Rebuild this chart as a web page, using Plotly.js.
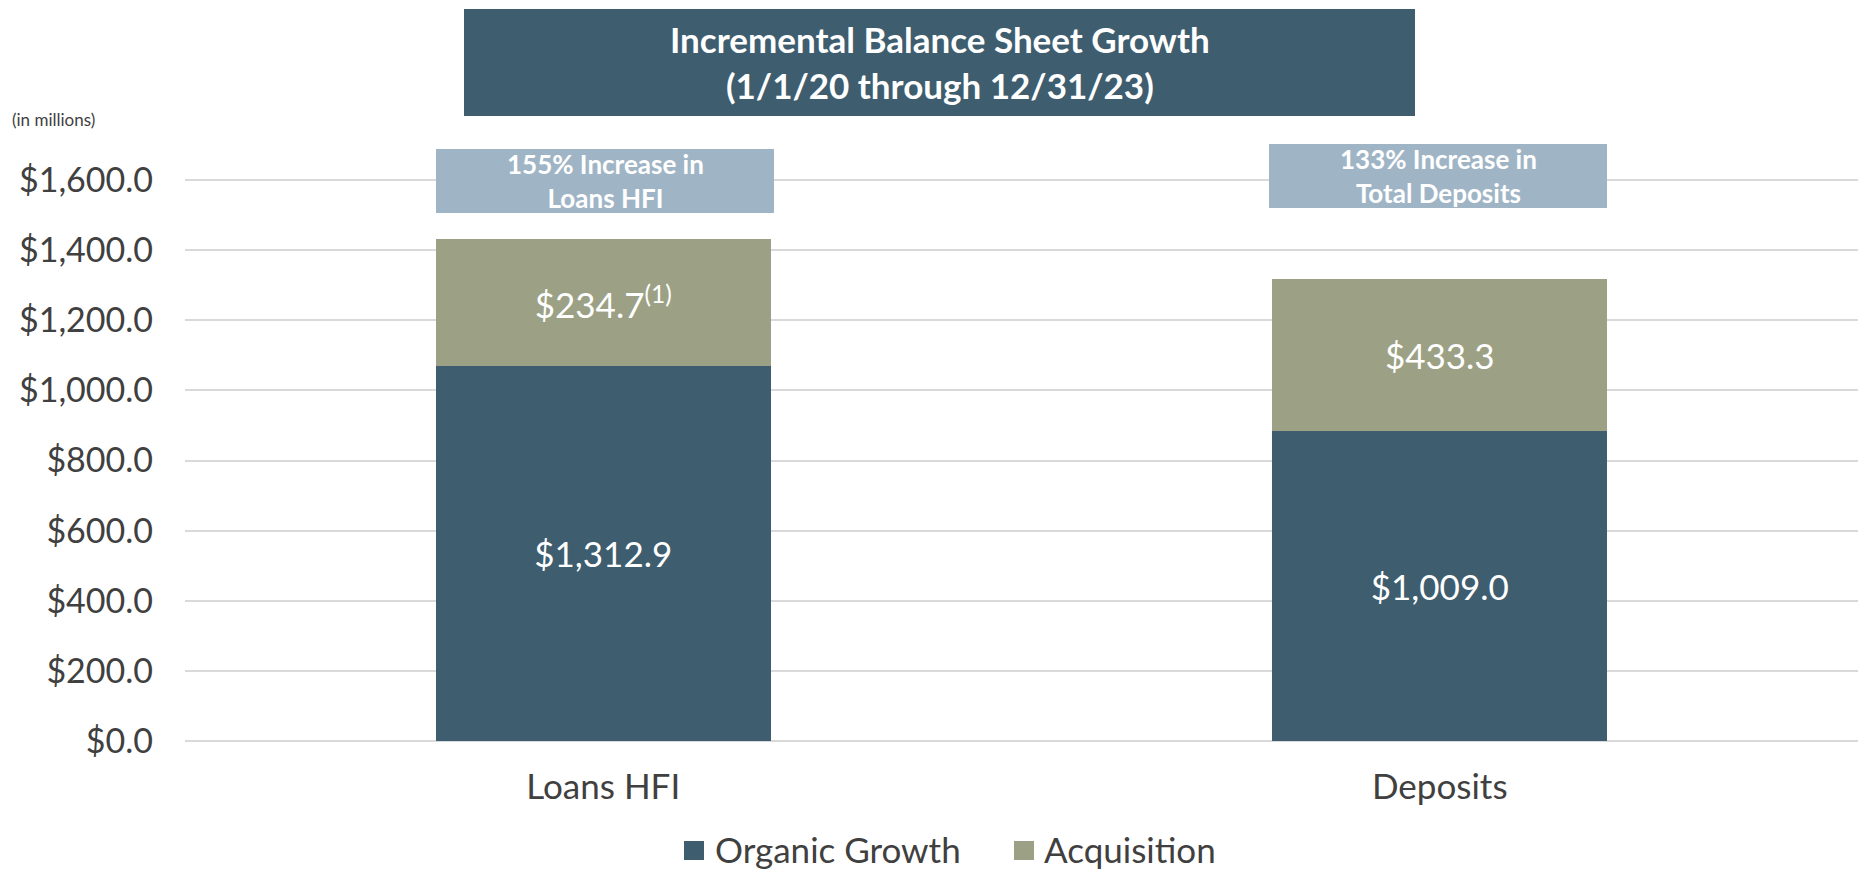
<!DOCTYPE html>
<html>
<head>
<meta charset="utf-8">
<script src="https://cdn.plot.ly/plotly-3.0.1.min.js"></script>
<style>html,body{margin:0;padding:0;background:#fff;}#chart{width:1864px;height:872px;}</style>
</head>
<body>
<div id="chart"></div>
<script>
// ---- data ----
const categories = ["Loans HFI", "Deposits"];
const organicValues = [1071, 885];
const acquisitionValues = [360.5, 433.3];
const organicLabels = ["$1,312.9", "$1,009.0"];
const acquisitionLabels = ["$234.7<sup>(1)</sup>", "$433.3"];
const seriesNames = ["Organic Growth", "Acquisition"];
const calloutTexts = ["155% Increase in<br>Loans HFI", "133% Increase in<br>Total Deposits"];
const chartTitle = "Incremental Balance Sheet Growth<br>(1/1/20 through 12/31/23)";
const unitNote = "(in millions)";
const yTickVals = [0, 200, 400, 600, 800, 1000, 1200, 1400, 1600];
const yTickText = ["$0.0", "$200.0", "$400.0", "$600.0", "$800.0", "$1,000.0", "$1,200.0", "$1,400.0", "$1,600.0"];

// ---- layout helpers ----
const W = 1864, Hgt = 872;
const M = {l: 185, r: 6, t: 145, b: 131, autoexpand: false};
const PW = W - M.l - M.r, PH = Hgt - M.t - M.b;
const px = x => (x - M.l) / PW;
const py = y => (Hgt - M.b - y) / PH;

const cDark = "#3e5d6f", cOlive = "#9ca185", cLight = "#9fb5c6", cText = "#404040";
const font = "Lato, 'Open Sans', sans-serif";
const seriesColors = [cDark, cOlive];

const traces = [
  {
    type: "bar", name: seriesNames[0], x: categories, y: organicValues,
    text: organicLabels, texttemplate: "%{text}", textposition: "inside",
    insidetextanchor: "middle", textangle: 0,
    textfont: {family: font, size: 35, color: "#ffffff"},
    marker: {color: seriesColors[0]}, hoverinfo: "skip"
  },
  {
    type: "bar", name: seriesNames[1], x: categories, y: acquisitionValues,
    text: acquisitionLabels, texttemplate: "%{text}", textposition: "inside",
    insidetextanchor: "middle", textangle: 0,
    textfont: {family: font, size: 35, color: "#ffffff"},
    marker: {color: seriesColors[1]}, hoverinfo: "skip"
  }
];

const callouts = [
  {x0: 436, x1: 774, y0: 149, y1: 213},
  {x0: 1269, x1: 1607, y0: 144, y1: 208}
];

const shapes = [
  {type: "rect", xref: "paper", yref: "paper", x0: px(464), x1: px(1415), y0: py(9), y1: py(116),
   fillcolor: cDark, line: {width: 0}, layer: "above"}
];
const annotations = [
  {xref: "paper", yref: "paper", x: px(940), y: py(62), xanchor: "center", yanchor: "middle",
   text: chartTitle, showarrow: false, align: "center",
   font: {family: font, size: 35, color: "#ffffff", weight: "bold"}},
  {xref: "paper", yref: "paper", x: px(10), y: py(119), xanchor: "left", yanchor: "middle",
   text: unitNote, showarrow: false, font: {family: font, size: 17, color: cText}}
];
callouts.forEach((c, i) => {
  shapes.push({type: "rect", xref: "paper", yref: "paper", x0: px(c.x0), x1: px(c.x1), y0: py(c.y0), y1: py(c.y1),
    fillcolor: cLight, line: {width: 0}, layer: "above"});
  annotations.push({xref: "paper", yref: "paper", x: px((c.x0 + c.x1) / 2), y: py((c.y0 + c.y1) / 2),
    xanchor: "center", yanchor: "middle", text: calloutTexts[i], showarrow: false, align: "center",
    font: {family: font, size: 26, color: "#ffffff", weight: "bold"}});
});

// custom legend (larger swatches than Plotly's built-in legend)
const legendItems = [{sx: 684, tx: 713}, {sx: 1014, tx: 1042}];
legendItems.forEach((it, i) => {
  shapes.push({type: "rect", xref: "paper", yref: "paper", x0: px(it.sx), x1: px(it.sx + 20),
    y0: py(841), y1: py(860), fillcolor: seriesColors[i], line: {width: 0}});
  annotations.push({xref: "paper", yref: "paper", x: px(it.tx), y: py(849), xanchor: "left", yanchor: "middle",
    text: seriesNames[i], showarrow: false, font: {family: font, size: 35, color: cText}});
});

const layout = {
  width: W, height: Hgt,
  margin: M,
  paper_bgcolor: "#ffffff", plot_bgcolor: "#ffffff",
  barmode: "stack", bargap: 0.6,
  font: {family: font, color: cText},
  xaxis: {
    tickfont: {family: font, size: 35, color: cText},
    showgrid: false, showline: false, zeroline: false, ticks: "",
    ticklabelstandoff: 22, fixedrange: true
  },
  yaxis: {
    range: [0, 1700], tickvals: yTickVals, ticktext: yTickText,
    tickfont: {family: font, size: 34, color: cText},
    showgrid: true, gridcolor: "#d9d9d9", gridwidth: 2,
    zeroline: true, zerolinecolor: "#d9d9d9", zerolinewidth: 2,
    showline: false, ticks: "", ticklabelstandoff: 31, fixedrange: true
  },
  showlegend: false,
  shapes: shapes,
  annotations: annotations
};

Plotly.newPlot("chart", traces, layout, {displayModeBar: false, staticPlot: true});
</script>
</body>
</html>
